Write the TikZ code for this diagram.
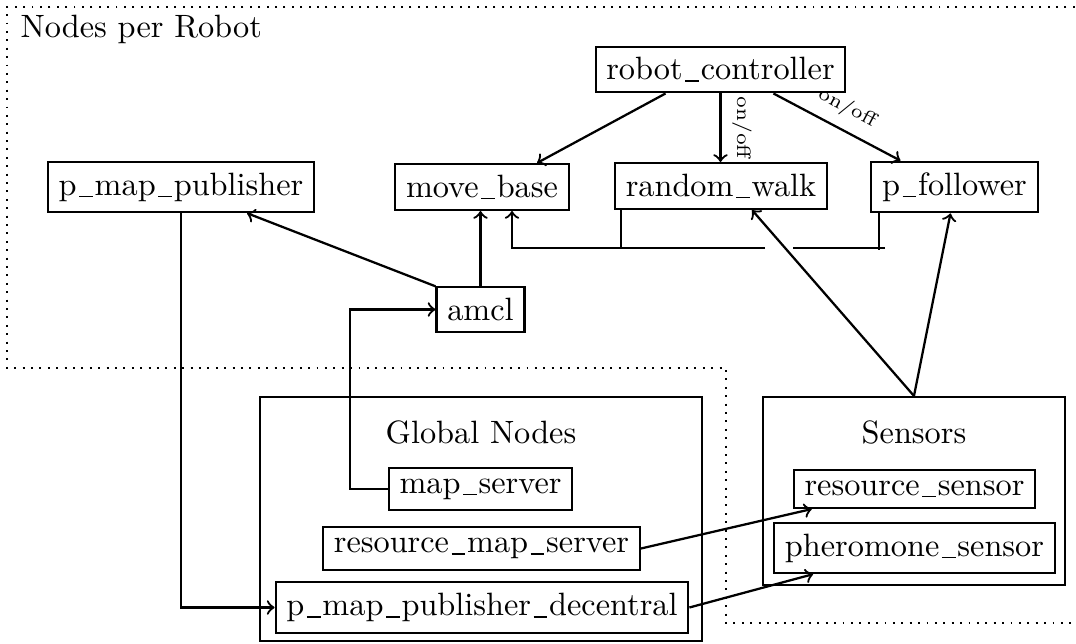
\documentclass[tikz,border=0pt]{standalone}
\usetikzlibrary{calc,fit}
% underscore drawn as a rule with a little space on both sides
\newcommand\uscore{\kern.08em\rule[-0.6pt]{.42em}{0.4pt}\kern.06em}
\begin{document}
\begin{tikzpicture}[
  x=0.3096pt, y=-0.3096pt,
  box/.style={draw, line width=0.65pt},
  group/.style={draw, line width=0.65pt, inner sep=0pt},
  wire/.style={line width=0.7pt},
  conn/.style={->, line width=0.7pt},
  lbl/.style={font=\fontsize{6}{7}\selectfont, sloped, above},
  boundary/.style={dotted, line width=0.6pt}
]
\clip (0,0) rectangle (1076,644);

% per-robot area
\draw[boundary] (1100,7) -- (7,7) -- (7,368) -- (726,368) -- (726,623) -- (1100,623);
\node[anchor=base west, inner sep=0pt] (title) at (20,37) {Nodes per Robot};

\node[box] (rc)   at (720.5,69.5) {robot\uscore controller};
\node[box] (pmp)  at (181,187)    {p\uscore map\uscore publisher};
\node[box] (mb)   at (482,187)    {move\uscore base};
\node[box] (rw)   at (721,186)    {random\uscore walk};
\node[box] (pf)   at (954.5,187)  {p\uscore follower};
\node[box] (amcl) at (480.5,309.5) {amcl};

% global nodes
\coordinate (g1) at (260,397);
\coordinate (g2) at (702,641);
\node[group, fit=(g1)(g2)] (global) {};
\node (globaltitle) at (481,432) {Global Nodes};
\node[box] (ms)   at (480.5,489)  {map\uscore server};
\node[box] (rms)  at (481.5,548.5) {resource\uscore map\uscore server};
\node[box] (pmpd) at (482,607.5)  {p\uscore map\uscore publisher\uscore decentral};

% sensors
\coordinate (s1) at (763,397);
\coordinate (s2) at (1065,585);
\node[group, fit=(s1)(s2)] (sensors) {};
\node (sensorstitle) at (914,432) {Sensors};
\node[box] (rs) at (914.5,489) {resource\uscore sensor};
\node[box] (ps) at (914.5,548) {pheromone\uscore sensor};

% controller switching
\draw[conn] ($(rc.south)+(-55,0)$) -- ($(mb.north)+(55,0)$);
\draw[conn] (rc.south) -- (rc.south |- rw.north) node[lbl, midway] {on/off};
\draw[conn] ($(rc.south)+(53,0)$) -- ($(pf.north)+(-54,0)$) node[lbl, midway] {on/off};

% localisation
\draw[conn] (amcl.north west) -- ($(pmp.south)+(66,0)$);
\draw[conn] (amcl.north) -- (amcl.north |- mb.south);
\draw[conn] (ms.west) -- ++(-38,0) |- (amcl.west);
\draw[conn] (pmp.south) |- (pmpd.west);

% velocity commands into move_base
\coordinate (gapL) at (765,248);
\coordinate (gapR) at (793,248);
\coordinate (busend) at (885,248);
\draw[wire] ($(rw.south west)+(7,0)$) -- ++(0,37);
\draw[wire] ($(pf.south west)+(9,0)$) -- ($(pf.south west)+(9,37)$);
\draw[wire] (busend) -- (gapR);
\draw[conn] (gapL) -| ($(mb.south)+(30,0)$);

% sensor data
\draw[conn] (sensors.north) -- ($(rw.south)+(31,0)$);
\draw[conn] (sensors.north) -- ($(pf.south)+(-4,0)$);
\draw[conn] (rms.east) -- ($(rs.south west)+(19,0)$);
\draw[conn] (pmpd.east) -- ($(ps.south west)+(40,0)$);
\end{tikzpicture}
\end{document}
